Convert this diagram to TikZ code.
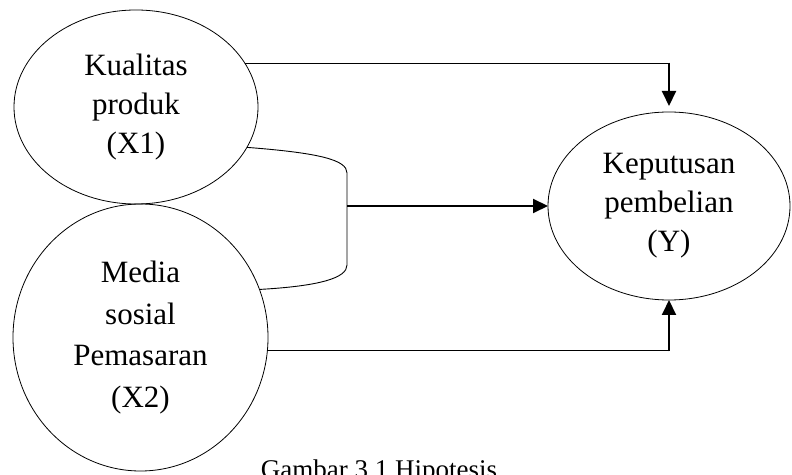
\documentclass[tikz,border=0pt]{standalone}
\usepackage{fontspec}
\setmainfont{Liberation Serif}
\usetikzlibrary{arrows.meta,shapes.geometric}
\begin{document}
\begin{tikzpicture}[x=1pt,y=1pt,
  var/.style={draw, ellipse, line width=0.8pt, inner sep=0pt, outer sep=0pt,
    align=center, font=\fontsize{31}{39}\selectfont},
  thinline/.style={line width=0.9pt},
  thickarrow/.style={line width=2pt, -{Triangle[length=15pt,width=14pt]}},
]
\useasboundingbox (0,0) rectangle (792,474);
\node[var, minimum width=244pt, minimum height=194pt] (X1) at (136,367) {Kualitas\\produk\\(X1)};
\node[var, minimum width=255pt, minimum height=267pt, font=\fontsize{31}{41.5}\selectfont] (X2) at (140.5,136.5) {Media\\sosial\\Pemasaran\\(X2)};
\node[var, minimum width=242pt, minimum height=188pt] (Y) at (669,268) {Keputusan\\pembelian\\(Y)};
\node[font=\fontsize{27}{32}\selectfont, anchor=base] (cap) at (379,-4) {Gambar 3.1 Hipotesis};
% top connector
\coordinate (t1) at (X1.22 -| Y.north);
\draw[thinline] (X1.22) -- (t1);
\draw[thickarrow, shorten >=6pt] ([yshift=0.45pt]t1) -- (Y.north);
% bottom connector
\coordinate (b1) at (X2.-6.5 -| Y.south);
\draw[thinline] (X2.-6.5) -- (b1);
\draw[thickarrow] ([yshift=-0.45pt]b1) -- (Y.south);
% bracket
\coordinate (k1) at (347,301);
\coordinate (k2) at (347,209);
\draw[thinline] (X1.-20.9) .. controls (320,321) and (347,314) .. (k1) -- (k2)
  .. controls (347,196) and (320,188) .. (X2.22.7);
\coordinate (m) at (k1 |- Y.west);
\draw[thickarrow] (m) -- (Y.west);
\end{tikzpicture}
\end{document}
